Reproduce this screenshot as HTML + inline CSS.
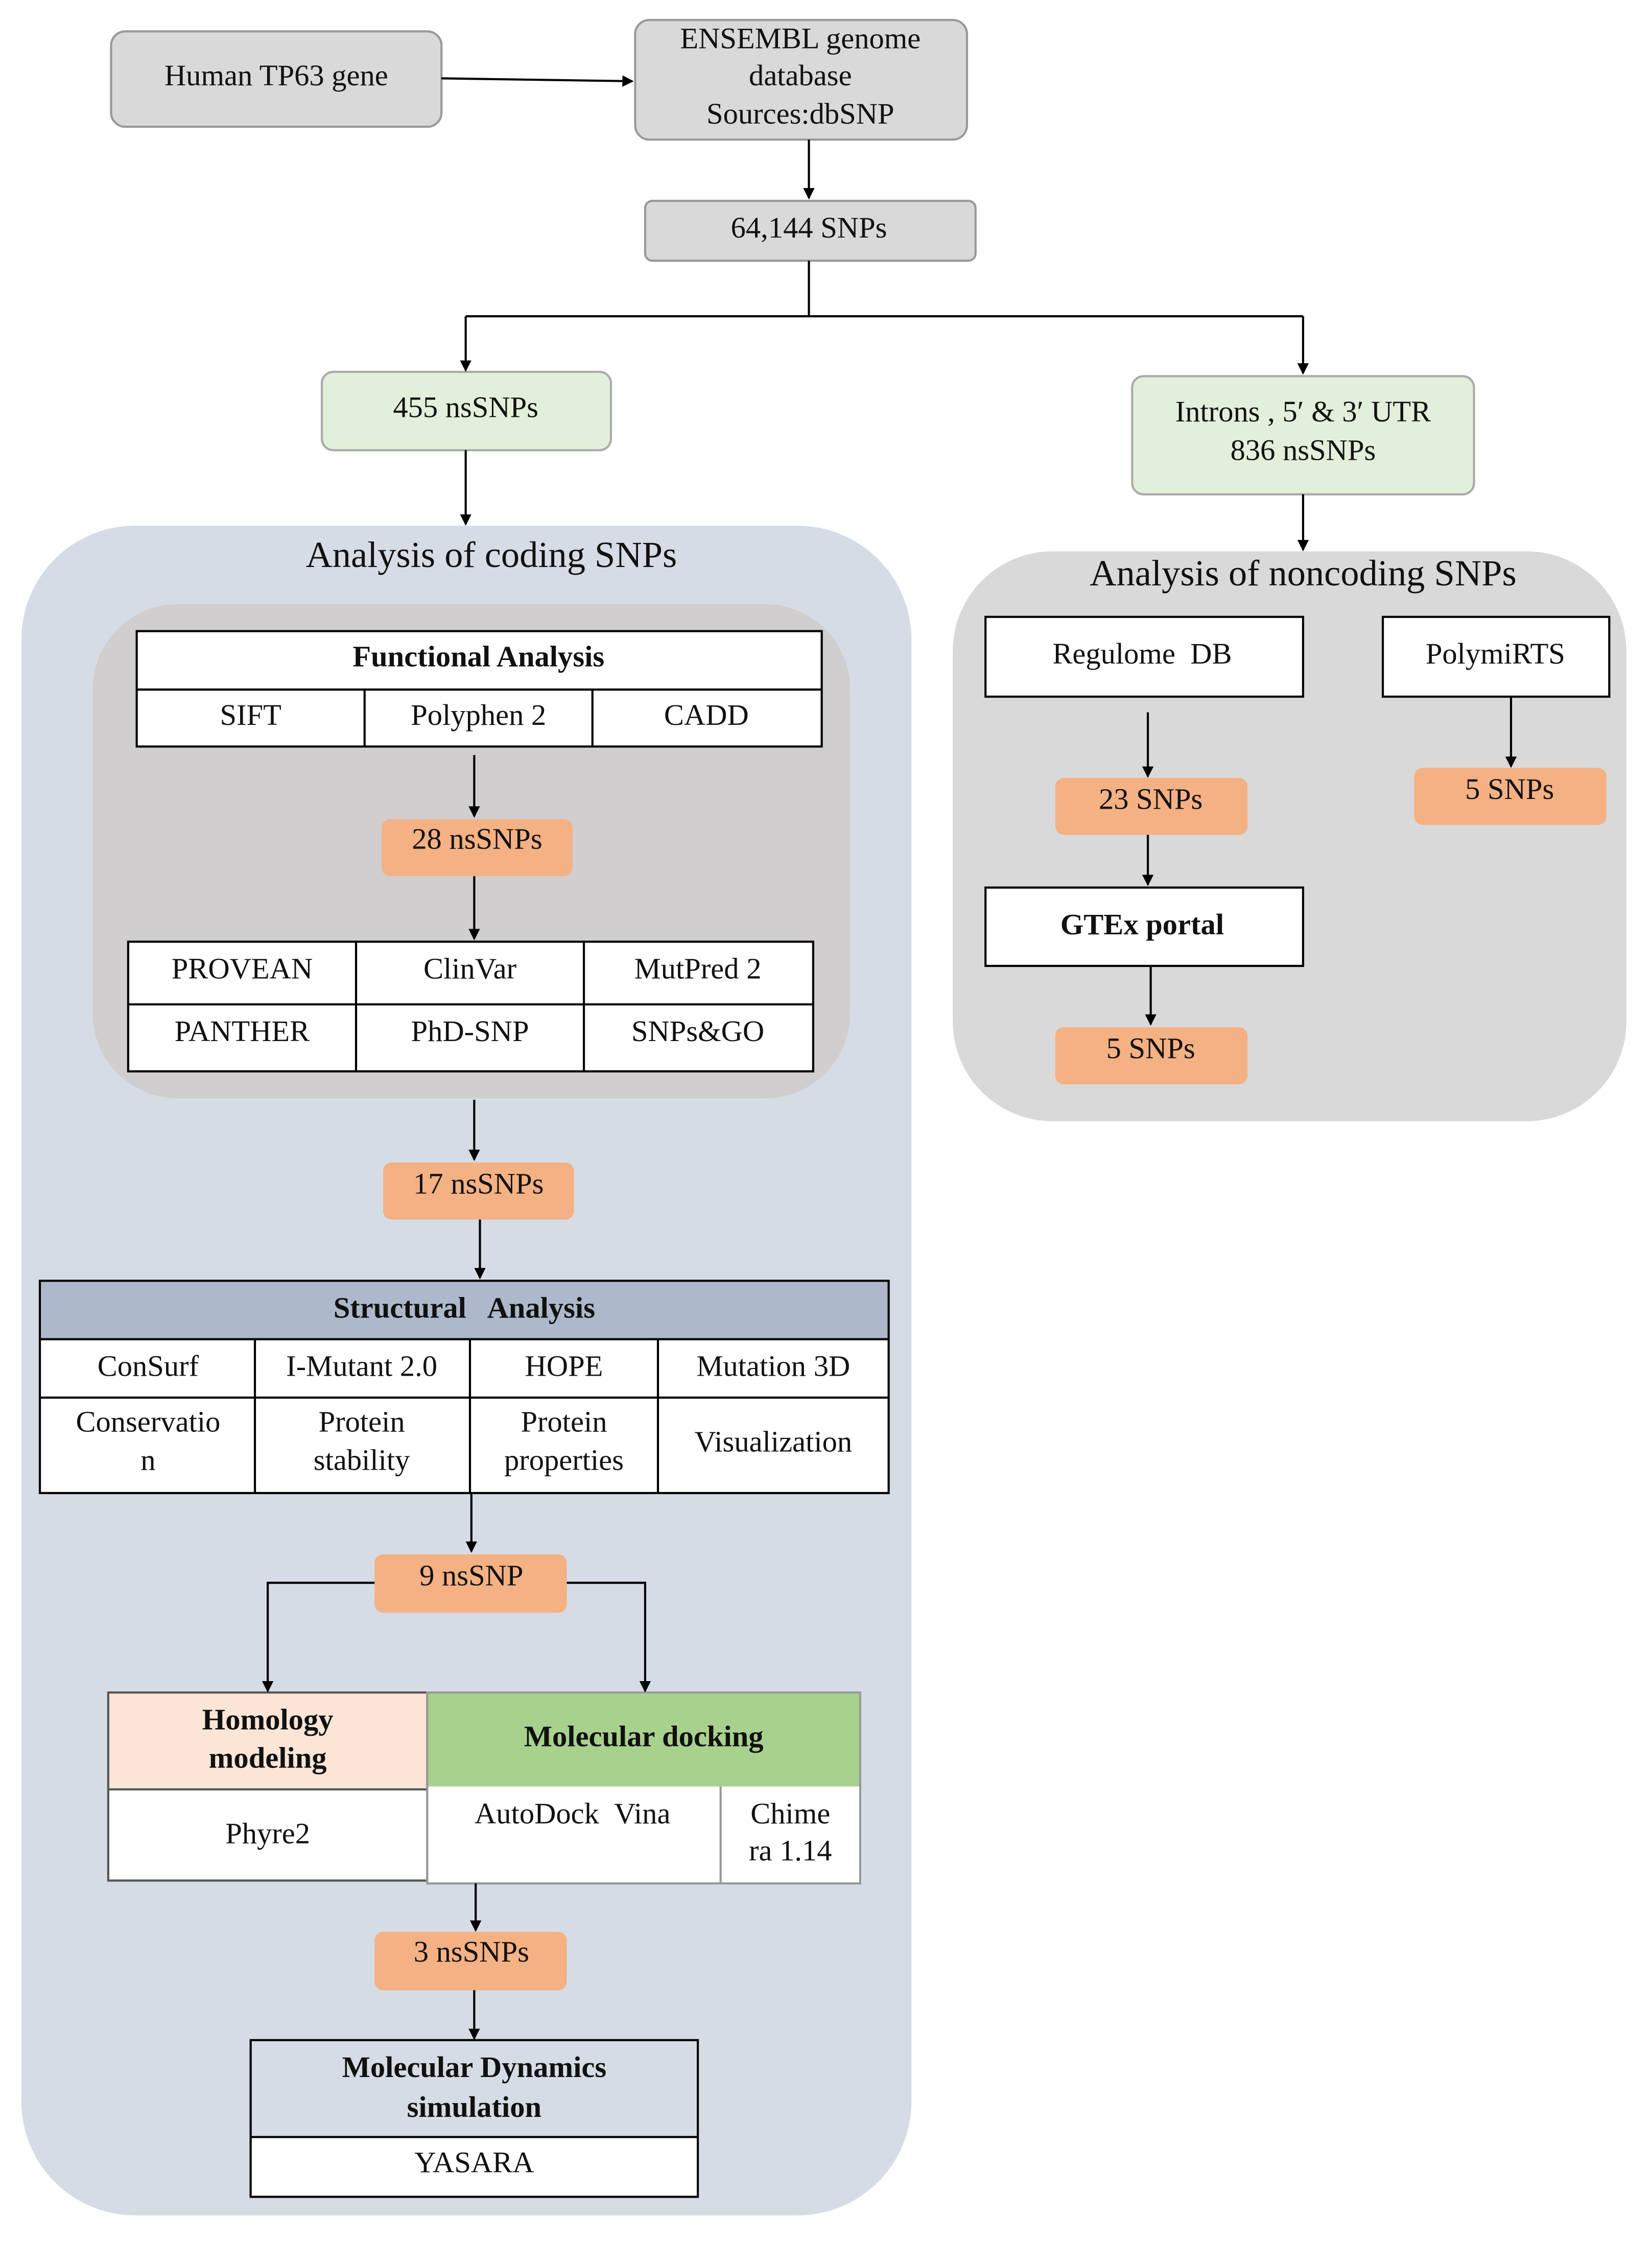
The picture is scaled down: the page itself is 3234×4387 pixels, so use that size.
<!DOCTYPE html>
<html><head><meta charset="utf-8">
<style>
html,body{margin:0;padding:0;background:#fff;}
svg{display:block;}
text{font-family:"Liberation Serif",serif;font-size:21px;fill:#111;text-anchor:middle;dominant-baseline:middle;}
.b{font-weight:bold;}
</style></head><body>
<svg width="3234" height="4387" viewBox="0 0 1160 1573" preserveAspectRatio="none" xmlns="http://www.w3.org/2000/svg">
<defs><marker id="a" markerWidth="8" markerHeight="8" refX="7" refY="4" orient="auto" markerUnits="userSpaceOnUse"><path d="M0,0 L8,4 L0,8 z" fill="#000"/></marker></defs>
<g stroke="#000" stroke-width="1.5" fill="none">
</g>
<!-- top -->
<rect x="78" y="22" width="232" height="67" rx="10" fill="#d9d9d9" stroke="#999" stroke-width="1.5"/>
<text x="194" y="55">Human TP63 gene</text>
<rect x="446" y="14" width="233" height="84" rx="10" fill="#d9d9d9" stroke="#999" stroke-width="1.5"/>
<text x="562" y="29">ENSEMBL genome</text><text x="562" y="55">database</text><text x="562" y="82">Sources:dbSNP</text>
<rect x="453" y="141" width="232" height="42" rx="5" fill="#d9d9d9" stroke="#999" stroke-width="1.5"/>
<text x="568" y="162">64,144 SNPs</text>
<rect x="226" y="261" width="203" height="55" rx="8" fill="#e2efda" stroke="#aaa" stroke-width="1.5"/>
<text x="327" y="288">455 nsSNPs</text>
<rect x="795" y="264" width="240" height="83" rx="8" fill="#e2efda" stroke="#aaa" stroke-width="1.5"/>
<text x="915" y="291">Introns , 5′ &amp; 3′ UTR</text><text x="915" y="318">836 nsSNPs</text>
<g stroke="#000" stroke-width="1.5" fill="none">
<path d="M310,55 L444,57" marker-end="url(#a)"/>
<path d="M568,98 L568,139" marker-end="url(#a)"/>
<path d="M568,183 L568,222 M327,222 L915,222"/>
<path d="M327,222 L327,260" marker-end="url(#a)"/>
<path d="M915,222 L915,262" marker-end="url(#a)"/>
<path d="M327,316 L327,368" marker-end="url(#a)"/>
<path d="M915,347 L915,386" marker-end="url(#a)"/>
</g>
<!-- panels -->
<rect x="15" y="369" width="625" height="1186" rx="80" fill="#d6dce5"/>
<text x="345" y="392" style="font-size:26px">Analysis of coding SNPs</text>
<rect x="669" y="387" width="473" height="400" rx="70" fill="#d9d9d9"/>
<text x="915" y="405" style="font-size:26px">Analysis of noncoding SNPs</text>
<rect x="65" y="424" width="532" height="347" rx="60" fill="#d0cece"/>
<!-- functional -->
<g stroke="#000" stroke-width="1.5" fill="#fff">
<rect x="96" y="443" width="481" height="81"/>
<path d="M96,484 L577,484 M256,484 L256,524 M416,484 L416,524" fill="none"/>
<rect x="90" y="661" width="481" height="91"/>
<path d="M90,705 L571,705 M250,661 L250,752 M410,661 L410,752" fill="none"/>
</g>
<text x="336" y="463" class="b">Functional Analysis</text>
<text x="176" y="504">SIFT</text><text x="336" y="504">Polyphen 2</text><text x="496" y="504">CADD</text>
<text x="170" y="682">PROVEAN</text><text x="330" y="682">ClinVar</text><text x="490" y="682">MutPred 2</text>
<text x="170" y="726">PANTHER</text><text x="330" y="726">PhD-SNP</text><text x="490" y="726">SNPs&amp;GO</text>
<g fill="#f4b183">
<rect x="268" y="575" width="134" height="40" rx="6"/>
<rect x="269" y="816" width="134" height="40" rx="6"/>
<rect x="263" y="1091" width="135" height="41" rx="6"/>
<rect x="263" y="1356" width="135" height="41" rx="6"/>
<rect x="741" y="546" width="135" height="40" rx="6"/>
<rect x="741" y="721" width="135" height="40" rx="6"/>
<rect x="993" y="539" width="135" height="40" rx="6"/>
</g>
<text x="335" y="591">28 nsSNPs</text>
<text x="336" y="833">17 nsSNPs</text>
<text x="331" y="1108">9 nsSNP</text>
<text x="331" y="1372">3 nsSNPs</text>
<text x="808" y="563">23 SNPs</text>
<text x="808" y="738">5 SNPs</text>
<text x="1060" y="556">5 SNPs</text>
<!-- structural -->
<rect x="28" y="899" width="596" height="41" fill="#adb9ca"/>
<rect x="28" y="940" width="596" height="108" fill="#fff"/>
<g stroke="#000" stroke-width="1.5" fill="none">
<rect x="28" y="899" width="596" height="149"/>
<path d="M28,940 L624,940 M28,981 L624,981 M179,940 L179,1048 M330,940 L330,1048 M462,940 L462,1048"/>
</g>
<text x="326" y="920" class="b">Structural &#160; Analysis</text>
<text x="104" y="961">ConSurf</text><text x="254" y="961">I-Mutant 2.0</text><text x="396" y="961">HOPE</text><text x="543" y="961">Mutation 3D</text>
<text x="104" y="1000">Conservatio</text><text x="104" y="1027">n</text>
<text x="254" y="1000">Protein</text><text x="254" y="1027">stability</text>
<text x="396" y="1000">Protein</text><text x="396" y="1027">properties</text>
<text x="543" y="1014">Visualization</text>
<!-- homology/docking -->
<rect x="76" y="1188" width="224" height="68" fill="#fbe5d6"/>
<rect x="76" y="1256" width="224" height="64" fill="#fff"/>
<rect x="300" y="1188" width="304" height="66" fill="#a9d18e"/>
<rect x="300" y="1254" width="304" height="68" fill="#fff"/>
<g stroke="#555" stroke-width="1.5" fill="none">
<rect x="76" y="1188" width="224" height="132"/>
<path d="M76,1256 L300,1256"/>
<rect x="300" y="1188" width="304" height="134" stroke="#999"/>
<path d="M506,1254 L506,1322" stroke="#999"/>
</g>
<text x="188" y="1209" class="b">Homology</text><text x="188" y="1236" class="b">modeling</text>
<text x="188" y="1289">Phyre2</text>
<text x="452" y="1221" class="b">Molecular docking</text>
<text x="402" y="1275">AutoDock &#160;Vina</text>
<text x="555" y="1275">Chime</text><text x="555" y="1301">ra 1.14</text>
<!-- MD -->
<rect x="176" y="1432" width="314" height="68" fill="#d6dce5"/>
<rect x="176" y="1500" width="314" height="42" fill="#fff"/>
<g stroke="#000" stroke-width="1.5" fill="none">
<rect x="176" y="1432" width="314" height="110"/>
<path d="M176,1500 L490,1500"/>
</g>
<text x="333" y="1453" class="b">Molecular Dynamics</text><text x="333" y="1481" class="b">simulation</text>
<text x="333" y="1520">YASARA</text>
<!-- right boxes -->
<g stroke="#000" stroke-width="1.5" fill="#fff">
<rect x="692" y="433" width="223" height="56"/>
<rect x="971" y="433" width="159" height="56"/>
<rect x="692" y="623" width="223" height="55"/>
</g>
<text x="802" y="461">Regulome &#160;DB</text>
<text x="1050" y="461">PolymiRTS</text>
<text x="802" y="651" class="b">GTEx portal</text>
<!-- arrows -->
<g stroke="#000" stroke-width="1.5" fill="none">
<path d="M333,530 L333,573" marker-end="url(#a)"/>
<path d="M333,615 L333,659" marker-end="url(#a)"/>
<path d="M333,772 L333,814" marker-end="url(#a)"/>
<path d="M337,856 L337,897" marker-end="url(#a)"/>
<path d="M331,1048 L331,1089" marker-end="url(#a)"/>
<path d="M263,1111 L188,1111 L188,1187" marker-end="url(#a)"/>
<path d="M398,1111 L453,1111 L453,1187" marker-end="url(#a)"/>
<path d="M334,1322 L334,1355" marker-end="url(#a)"/>
<path d="M333,1397 L333,1431" marker-end="url(#a)"/>
<path d="M806,500 L806,545" marker-end="url(#a)"/>
<path d="M806,586 L806,621" marker-end="url(#a)"/>
<path d="M808,678 L808,719" marker-end="url(#a)"/>
<path d="M1061,489 L1061,538" marker-end="url(#a)"/>
</g>
</svg>
</body></html>
